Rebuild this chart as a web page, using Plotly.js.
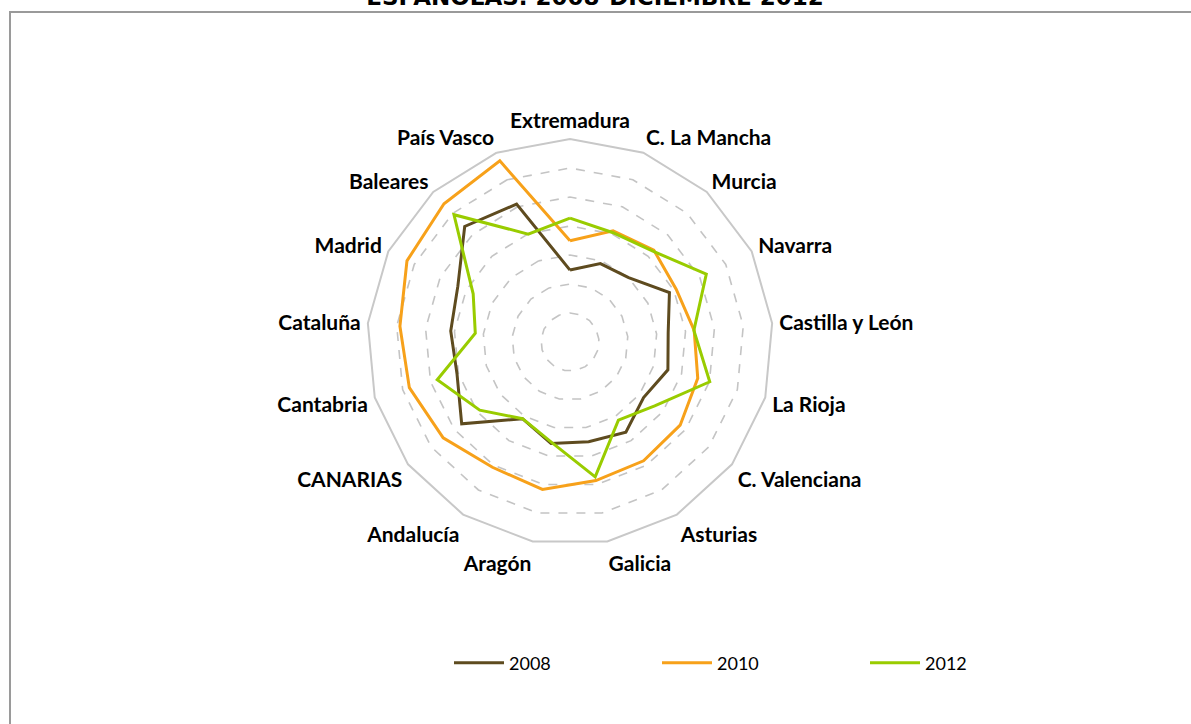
<!DOCTYPE html>
<html>
<head>
<meta charset="utf-8">
<script src="https://cdn.plot.ly/plotly-3.0.1.min.js"></script>
<style>html,body{margin:0;padding:0;background:#fff;overflow:hidden;}#chart{width:1191px;height:724px;}</style>
</head>
<body>
<div id="chart"></div>
<script>
const categories = ["Extremadura", "C. La Mancha", "Murcia", "Navarra", "Castilla y León", "La Rioja",
  "C. Valenciana", "Asturias", "Galicia", "Aragón", "Andalucía", "CANARIAS", "Cantabria",
  "Cataluña", "Madrid", "Baleares", "País Vasco"];
const seriesNames = ["2008", "2010", "2012"];
const values2008 = [2.48, 2.90, 3.00, 3.83, 3.40, 3.51, 3.18, 3.66, 3.50, 3.56, 3.11, 4.68, 4.05, 4.13, 4.32, 5.39, 5.10];
const values2010 = [3.49, 4.11, 4.29, 4.09, 4.30, 4.58, 4.76, 4.82, 4.86, 5.17, 5.08, 5.48, 5.76, 5.89, 6.28, 6.45, 6.70];
const values2012 = [4.27, 4.05, 4.24, 5.25, 4.29, 5.01, 3.66, 3.17, 4.73, 3.51, 3.11, 3.90, 4.76, 3.28, 3.73, 5.94, 3.99];
const colors = ["#5e4b1f", "#f7a11a", "#99cc00"];
const titleText = "ESPAÑOLAS. 2008-DICIEMBRE 2012";

function closed(a) { return a.concat([a[0]]); }
const allSeries = [values2008, values2010, values2012];
const traces = allSeries.map((v, i) => ({
  type: "scatterpolar",
  r: closed(v),
  theta: closed(categories),
  mode: "lines",
  name: seriesNames[i],
  line: {color: colors[i], width: 3},
  hoverinfo: "skip"
}));

const W = 1191, H = 724;
const cx = 570, cy = 342, R = 203;
const layout = {
  width: W, height: H,
  margin: {l: 0, r: 0, t: 0, b: 0, autoexpand: false},
  paper_bgcolor: "#ffffff",
  plot_bgcolor: "#ffffff",
  showlegend: true,
  title: {
    text: titleText,
    font: {family: "DejaVu Sans", size: 23, weight: "bold", color: "#000"},
    xref: "container", yref: "container",
    x: 595 / W, xanchor: "center",
    y: 1 - 5 / H, yanchor: "bottom",
    automargin: false
  },
  legend: {
    orientation: "h",
    x: 449 / W, xanchor: "left",
    y: 1 - 663 / H, yanchor: "middle",
    itemwidth: 50,
    entrywidth: 143, entrywidthmode: "pixels",
    font: {family: "Lato", size: 18, color: "#000"},
    bgcolor: "rgba(0,0,0,0)"
  },
  polar: {
    domain: {x: [(cx - R) / W, (cx + R) / W], y: [1 - (cy + R) / H, 1 - (cy - R) / H]},
    bgcolor: "#ffffff",
    gridshape: "linear",
    radialaxis: {
      range: [0, 7], dtick: 1, tick0: 0,
      showticklabels: false, ticks: "", showline: false,
      gridcolor: "#c4c4c4", gridwidth: 1.6, griddash: "dash",
      angle: 90
    },
    angularaxis: {
      type: "category",
      categoryarray: categories,
      rotation: 90, direction: "clockwise",
      showgrid: false,
      showline: true, linecolor: "#c8c8c8", linewidth: 2,
      ticks: "outside", ticklen: 2, tickcolor: "rgba(0,0,0,0)",
      tickfont: {family: "Lato", size: 21, weight: "bold", color: "#000"}
    }
  },
  shapes: [{
    type: "rect", xref: "paper", yref: "paper",
    x0: 10 / W, x1: 1.02, y0: -0.02, y1: 1 - 12 / H,
    line: {color: "#9a9a9a", width: 2}, fillcolor: "rgba(0,0,0,0)", layer: "above"
  }]
};
Plotly.newPlot("chart", traces, layout, {displayModeBar: false, staticPlot: true});
</script>
</body>
</html>
